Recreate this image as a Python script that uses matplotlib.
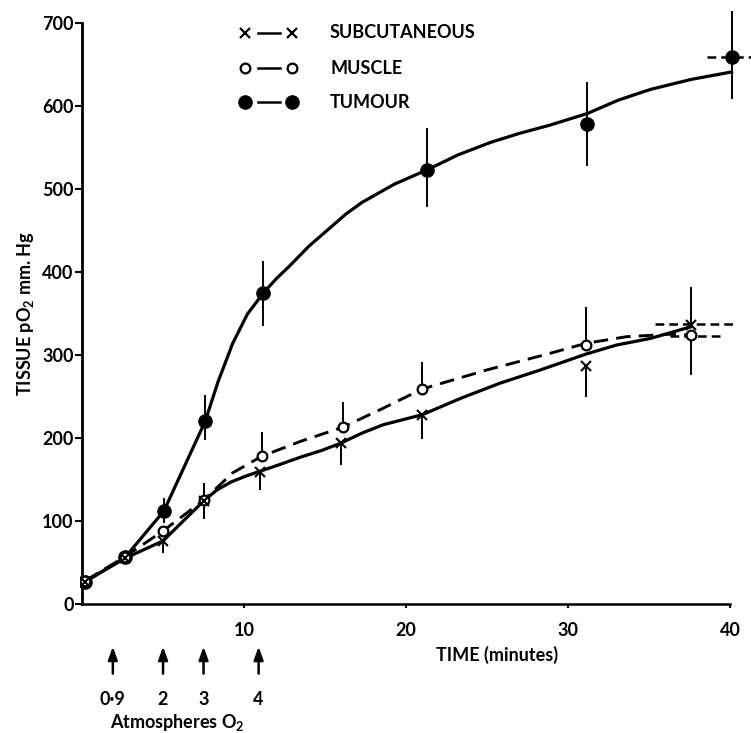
import matplotlib
matplotlib.use("Agg")
import matplotlib.pyplot as plt

plt.rcParams['font.family'] = ['Lato', 'DejaVu Sans']
plt.rcParams['font.weight'] = 'bold'
plt.rcParams['mathtext.fontset'] = 'custom'
plt.rcParams['mathtext.rm'] = 'Lato:bold'

# measured points (time in minutes, pO2 in mm Hg)
time_tumour = [0.2, 2.65, 5.05, 7.6, 11.2, 21.3, 31.2, 40.1]
po2_tumour = [27, 56, 112, 220, 375, 523, 578, 659]
tumour_lo = [27, 56, 98, 198, 335, 478, 528, 609]
tumour_hi = [27, 56, 128, 252, 413, 573, 629, 714]

time_muscle = [0.2, 2.65, 5.0, 7.5, 11.1, 16.1, 21.0, 31.1, 37.6]
po2_muscle = [28, 57, 88, 125, 178, 213, 259, 312, 324]
muscle_lo = [28, 57, 88, 102, 178, 213, 259, 312, 276]
muscle_hi = [28, 57, 88, 146, 207, 243, 292, 358, 324]

time_subcut = [0.2, 2.65, 5.0, 7.5, 11.0, 16.0, 21.0, 31.1, 37.6]
po2_subcut = [27, 55, 76, 124, 159, 194, 228, 287, 336]
subcut_lo = [27, 55, 61, 102, 137, 167, 199, 249, 336]
subcut_hi = [27, 55, 76, 146, 159, 194, 228, 287, 382]

# horizontal spreads on the last points: (y, x from, x to)
tumour_hspread = (659, 38.6, 41.3)
muscle_hspread = (323, 36.3, 39.7)
subcut_hspread = (337, 35.4, 40.4)

# hand-drawn fitted curves
tumour_curve_t = [0.2, 2.65, 5.05, 7.6, 8.4, 9.3, 10.2, 11.2, 12.0, 12.8, 14.0, 15.3, 16.3,
                  17.3, 19.3, 21.3, 23.2, 25.2, 27.0, 28.9, 31.2, 33.1, 35.1, 37.6, 40.1]
tumour_curve_p = [27, 56, 112, 220, 268, 314, 349, 375, 392, 407, 431, 453, 470,
                  484, 506, 523, 541, 556, 567, 577, 591, 607, 620, 632, 641]

muscle_curve_t = [0.2, 2.65, 5.0, 7.5, 9.3, 11.1, 13.5, 16.1, 18.5, 21.0, 25.0, 28.9,
                  31.1, 33.6, 36.3, 37.6]
muscle_curve_p = [28, 57, 88, 125, 158, 178, 196, 213, 235, 259, 282, 302,
                  314, 322, 325, 324]

subcut_curve_t = [0.2, 2.65, 5.0, 7.5, 8.3, 9.2, 10.1, 11.0, 12.2, 13.5, 14.8, 16.0, 17.3,
                  18.6, 19.8, 21.0, 23.4, 25.8, 28.3, 31.1, 33.0, 35.1, 37.6]
subcut_curve_p = [27, 55, 76, 124, 137, 147, 154, 160, 168, 177, 185, 194, 206,
                  216, 222, 228, 248, 266, 282, 301, 312, 320, 334]

# oxygen pressure steps
step_times = [1.9, 5.0, 7.5, 10.9]
step_labels = ['0\u00b79', '2', '3', '4']

fig = plt.figure(figsize=(7.51, 7.33), dpi=100)
ax = fig.add_axes([0.1071, 0.1749, 0.8908, 0.8164])
ax.set_xlim(-0.1, 41.2)
ax.set_ylim(-1, 720)

k = 'black'
ax.plot(tumour_curve_t, tumour_curve_p, color=k, lw=2.3, solid_joinstyle='round')
ax.plot(subcut_curve_t, subcut_curve_p, color=k, lw=2.3, solid_joinstyle='round')
ax.plot(muscle_curve_t, muscle_curve_p, color=k, lw=2.1, ls=(0, (5, 2.8)))

ax.vlines(time_tumour, tumour_lo, tumour_hi, color=k, lw=1.4)
ax.vlines(time_muscle, muscle_lo, muscle_hi, color=k, lw=1.4)
ax.vlines(time_subcut, subcut_lo, subcut_hi, color=k, lw=1.4)

for y, x0, x1 in (tumour_hspread, muscle_hspread, subcut_hspread):
    ax.plot([x0, x1], [y, y], color=k, lw=1.8, ls=(0, (3.5, 2)), clip_on=False)

ax.plot(time_tumour, po2_tumour, 'o', color=k, ms=9.5, zorder=5)
ax.plot(time_muscle, po2_muscle, 'o', mfc='white', mec=k, mew=1.6, ms=7, zorder=5)
ax.plot(time_subcut, po2_subcut, 'x', color=k, mew=1.5, ms=7, zorder=5)

# axes styling
for s in ['top', 'right']:
    ax.spines[s].set_visible(False)
ax.spines['left'].set_position(('data', 0))
ax.spines['bottom'].set_position(('data', 0))
ax.spines['left'].set_bounds(0, 700)
ax.spines['bottom'].set_bounds(0, 40)
ax.spines['left'].set_linewidth(2)
ax.spines['bottom'].set_linewidth(1.8)
ax.set_yticks(range(0, 701, 100))
ax.set_xticks([10, 20, 30, 40])
ax.tick_params(axis='y', length=5, width=1.5, pad=1, labelsize=13)
ax.tick_params(axis='x', length=3, width=1.5, pad=10, labelsize=13)

fig.text(25 / 751, 1 - 313 / 733, r'TISSUE pO$_2$ mm. Hg', rotation=90,
         ha='center', va='center', fontsize=13)
fig.text(497 / 751, 1 - 655 / 733, 'TIME (minutes)', ha='center', va='center', fontsize=13)

# arrows for chamber pressure
xt = ax.get_xaxis_transform()
for t, lab in zip(step_times, step_labels):
    ax.annotate('', xy=(t, -0.070), xytext=(t, -0.115), xycoords=xt, textcoords=xt,
                arrowprops=dict(arrowstyle='-|>,head_length=0.55,head_width=0.2',
                                lw=1.8, color=k, mutation_scale=14,
                                shrinkA=0, shrinkB=0))
    ax.text(t, -0.159, lab, transform=xt, ha='center', va='center', fontsize=13)
ax.text(5.86, -0.196, r'Atmospheres O$_2$', transform=xt, ha='center', va='center', fontsize=13)

# legend drawn by hand
ft = fig.transFigure
rows = [(33, 'x', 'SUBCUTANEOUS'), (68, 'o', 'MUSCLE'), (102, 'f', 'TUMOUR')]
for py, m, lab in rows:
    yf = 1 - py / 733
    ax.plot([258 / 751, 280 / 751], [yf, yf], color=k, lw=1.8, transform=ft, clip_on=False)
    xs = [245 / 751, 292 / 751]
    if m == 'x':
        ax.plot(xs, [yf, yf], 'x', color=k, ms=6.5, mew=1.6, transform=ft, clip_on=False)
    elif m == 'o':
        ax.plot(xs, [yf, yf], 'o', mfc='white', mec=k, mew=1.6, ms=7, transform=ft, clip_on=False)
    else:
        ax.plot(xs, [yf, yf], 'o', color=k, ms=9.5, transform=ft, clip_on=False)
    fig.text(330 / 751, yf, lab, ha='left', va='center', fontsize=13)

fig.savefig('out.png', dpi=100)
